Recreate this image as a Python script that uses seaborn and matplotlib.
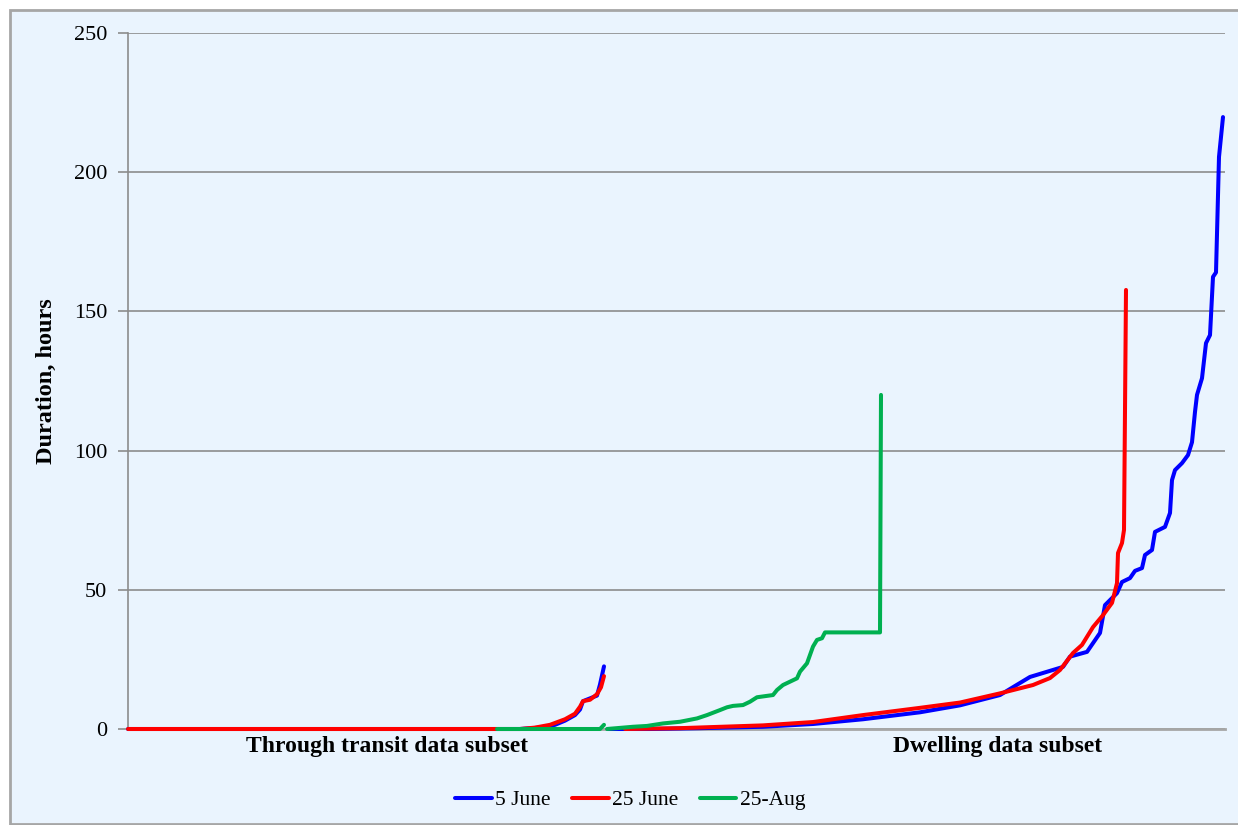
import pandas as pd
import matplotlib.pyplot as plt
import seaborn as sns
from matplotlib.patches import Rectangle
from matplotlib.lines import Line2D

# Datos: duración ordenada (horas) por observación, dos subconjuntos por fecha
series_names = ["5 June", "25 June", "25-Aug"]
subset_labels = ["Through transit data subset", "Dwelling data subset"]

# 5 June
blue_transit_x = [0, 392, 412, 427, 437, 447, 452, 455, 462, 469, 472, 476]
blue_transit_y = [0, 0, 0.5, 1.5, 3, 5, 7, 10, 11, 12, 16, 22.5]
blue_dwell_x = [480, 522, 572, 635, 685, 735, 792, 832, 872, 902, 935, 942, 959, 972,
                977, 989, 994, 1002, 1007, 1014, 1017, 1024, 1027, 1037, 1042, 1044,
                1047, 1054, 1060, 1064, 1067, 1069, 1074, 1078, 1082, 1085, 1088,
                1091, 1095]
blue_dwell_y = [0, 0, 0.3, 0.8, 1.8, 3.5, 6, 8.5, 12.2, 18.7, 22.3, 26, 27.7, 34.5,
                44.5, 48.8, 52.8, 54.2, 56.8, 57.8, 62.5, 64.3, 70.8, 72.6, 77.6, 89.4,
                93, 95.5, 98.4, 103, 113.9, 120, 126, 138.6, 141.5, 162.4, 164,
                205.5, 219.8]

# 25 June
red_transit_x = [0, 392, 407, 422, 437, 447, 452, 455, 462, 469, 473, 476]
red_transit_y = [0, 0, 0.5, 1.5, 3.5, 5.5, 8, 10, 10.5, 12.5, 15, 19]
red_dwell_x = [497, 552, 635, 685, 735, 792, 832, 872, 905, 922, 932, 945, 954, 965,
               975, 984, 989, 990, 994, 996, 998]
red_dwell_y = [0, 0.3, 1.3, 2.5, 5, 7.6, 9.5, 12.8, 15.8, 18.3, 21.2, 27.3, 30.2, 36.6,
               40.9, 45.3, 52.4, 63.2, 66.8, 71.5, 157.7]

# 25-Aug
green_transit_x = [369, 472, 476]
green_transit_y = [0, 0, 1.5]
green_dwell_x = [479, 505, 519, 535, 552, 569, 579, 592, 599, 605, 615, 622, 629, 639,
                 645, 649, 655, 662, 669, 672, 679, 685, 689, 694, 697, 752, 753]
green_dwell_y = [0, 0.8, 1.1, 2.0, 2.6, 3.8, 5.0, 6.8, 7.8, 8.3, 8.6, 9.8, 11.4, 11.9,
                 12.2, 14.0, 15.8, 17.0, 18.2, 20.6, 23.6, 29.6, 32.0, 32.6, 34.7, 34.7,
                 120]

colores = {"5 June": "#0000FF", "25 June": "#FF0000", "25-Aug": "#00B050"}
fondo = "#EAF4FE"

filas = []
segmentos = [
    ("5 June", "t", blue_transit_x, blue_transit_y),
    ("5 June", "d", blue_dwell_x, blue_dwell_y),
    ("25 June", "t", red_transit_x, red_transit_y),
    ("25 June", "d", red_dwell_x, red_dwell_y),
    ("25-Aug", "t", green_transit_x, green_transit_y),
    ("25-Aug", "d", green_dwell_x, green_dwell_y),
]
for nombre, seg, xs, ys in segmentos:
    for x, y in zip(xs, ys):
        filas.append({"rank": x, "hours": y, "serie": nombre, "seg": seg})
df = pd.DataFrame(filas)

sns.set_style("white")
plt.rcParams["font.family"] = ["Liberation Serif", "DejaVu Serif"]
plt.rcParams["text.color"] = "black"
plt.rcParams["axes.labelcolor"] = "black"
plt.rcParams["ytick.labelcolor"] = "black"
plt.rcParams["xtick.labelcolor"] = "black"

fig = plt.figure(figsize=(12.38, 8.25), dpi=100, facecolor="white")
fig.patches.append(Rectangle((10 / 1238, 1 / 825), 1.0, 1 - 11 / 825,
                             transform=fig.transFigure, facecolor=fondo,
                             edgecolor="#A6A6A6", linewidth=2, zorder=-10))
ax = fig.add_axes([128 / 1238, 1 - 729 / 825, 1097 / 1238, 696 / 825])
ax.set_facecolor(fondo)

sns.lineplot(data=df, x="rank", y="hours", hue="serie", hue_order=series_names,
             units="seg", estimator=None, sort=False, palette=colores,
             linewidth=2.9, ax=ax, legend=False)
for l in ax.get_lines():
    l.set_solid_capstyle("round")
    l.set_solid_joinstyle("round")
    l.set_clip_on(False)
    l.set_zorder(3)

ax.set_xlim(0, 1097)
ax.set_ylim(0, 250)
ax.set_yticks([0, 50, 100, 150, 200, 250])
ax.yaxis.grid(True, color="#8C8C8C", linewidth=1.2)
ax.set_axisbelow(True)
for s in ["top", "right"]:
    ax.spines[s].set_visible(False)
ax.spines["left"].set_color("#8C8C8C")
ax.spines["left"].set_linewidth(1.2)
ax.spines["bottom"].set_color("#A6A6A6")
ax.spines["bottom"].set_linewidth(2)
ax.tick_params(axis="y", length=7, color="#8C8C8C", width=1.2, labelsize=16, pad=8,
               left=True)
ax.set_xticks([259, 870], subset_labels, fontsize=17, fontweight="bold")
ax.tick_params(axis="x", length=0, pad=5)
ax.set_xlabel("")
ax.set_ylabel("Duration, hours", fontsize=17.5, fontweight="bold", labelpad=12)

handles = [Line2D([], [], color=colores[n], linewidth=2.9) for n in series_names]
fig.legend(handles, series_names, loc="center", bbox_to_anchor=(0.509, 0.03),
           ncol=3, frameon=False, fontsize=15.5, handlelength=1.7,
           handletextpad=0.15, columnspacing=1.0)

fig.savefig("out.png", dpi=100, facecolor="white")
